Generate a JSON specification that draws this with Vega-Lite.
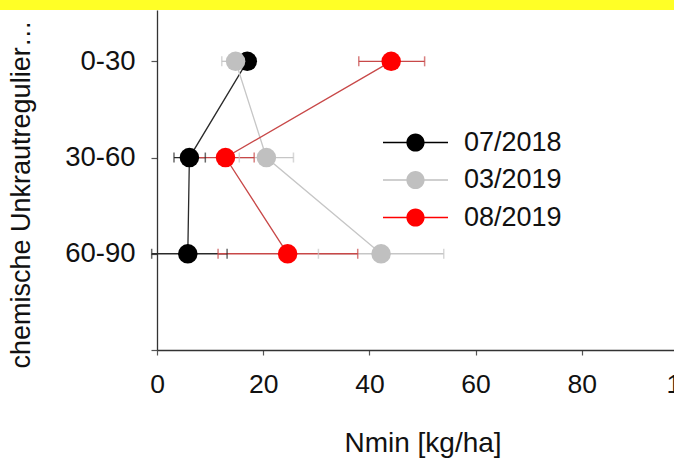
{
  "$schema": "https://vega.github.io/schema/vega-lite/v6.json",
  "padding": 0,
  "spacing": 0,
  "bounds": "flush",
  "center": true,
  "config": {
    "view": {"stroke": null},
    "font": "Liberation Sans",
    "axis": {"grid": false, "labelColor": "#111", "titleColor": "#111", "titleFontWeight": "normal", "domainColor": "#333", "domainWidth": 1.3, "tickColor": "#555", "tickWidth": 1.2}
  },
  "vconcat": [
    {
      "width": 845,
      "height": 10,
      "data": {"values": [{"band": "top"}]},
      "mark": {"type": "rect", "color": "#ffff26"}
    },
    {
      "width": 531,
      "height": 340,
      "data": {
        "values": [
          {"date": "07/2018", "depth": 15, "nmin": 17.0, "lo": 16.4, "hi": 17.6},
          {"date": "07/2018", "depth": 45, "nmin": 6.1, "lo": 3.2, "hi": 9.1},
          {"date": "07/2018", "depth": 75, "nmin": 5.8, "lo": -1.0, "hi": 13.2},
          {"date": "03/2019", "depth": 15, "nmin": 14.8, "lo": 12.2, "hi": 17.4},
          {"date": "03/2019", "depth": 45, "nmin": 20.6, "lo": 15.5, "hi": 25.7},
          {"date": "03/2019", "depth": 75, "nmin": 42.2, "lo": 30.4, "hi": 54.0},
          {"date": "08/2019", "depth": 15, "nmin": 44.1, "lo": 38.0, "hi": 50.4},
          {"date": "08/2019", "depth": 45, "nmin": 12.9, "lo": 7.5, "hi": 18.3},
          {"date": "08/2019", "depth": 75, "nmin": 24.6, "lo": 11.5, "hi": 37.8}
        ]
      },
      "encoding": {
        "y": {
          "field": "depth",
          "type": "quantitative",
          "scale": {"domain": [-1, 105], "reverse": true, "nice": false, "zero": false},
          "axis": {
            "title": "chemische Unkrautregulierung",
            "titleFontSize": 27,
            "titlePadding": 29,
            "titleAlign": "left",
            "titleY": 358,
            "titleLimit": 356,
            "values": [15, 45, 75, 105],
            "labelExpr": "datum.value == 15 ? '0-30' : datum.value == 45 ? '30-60' : datum.value == 75 ? '60-90' : ''",
            "labelFontSize": 27.5,
            "labelPadding": 16,
            "tickSize": 6
          }
        }
      },
      "layer": [
        {
          "mark": {"type": "line", "strokeWidth": 1.3},
          "encoding": {
            "x": {"field": "nmin", "type": "quantitative", "scale": {"domain": [0, 100], "nice": false},
              "axis": {"title": "Nmin [kg/ha]", "titleFontSize": 28, "titlePadding": 32, "values": [0, 20, 40, 60, 80, 100], "labelFontSize": 26.5, "labelPadding": 16, "labelFlush": false, "tickSize": 5}},
            "order": {"field": "depth", "type": "quantitative"},
            "stroke": {
              "field": "date", "type": "nominal",
              "scale": {"domain": ["08/2019", "03/2019", "07/2018"], "range": ["#c84848", "#c6c6c6", "#2a2a2a"]},
              "legend": null
            }
          }
        },
        {
          "mark": {"type": "rule", "strokeWidth": 1.3},
          "encoding": {
            "x": {"field": "lo", "type": "quantitative"},
            "x2": {"field": "hi"},
            "stroke": {"field": "date", "type": "nominal", "legend": null}
          }
        },
        {
          "mark": {"type": "tick", "orient": "vertical", "size": 10, "thickness": 1.5},
          "encoding": {
            "x": {"field": "lo", "type": "quantitative"},
            "fill": {"field": "date", "type": "nominal", "scale": {"domain": ["03/2019", "08/2019", "07/2018"], "range": ["#c6c6c6", "#c84848", "#2a2a2a"]}, "legend": null}
          }
        },
        {
          "mark": {"type": "tick", "orient": "vertical", "size": 10, "thickness": 1.5},
          "encoding": {
            "x": {"field": "hi", "type": "quantitative"},
            "fill": {"field": "date", "type": "nominal", "legend": null}
          }
        },
        {
          "mark": {"type": "point", "filled": true, "size": 380, "opacity": 1},
          "encoding": {
            "x": {"field": "nmin", "type": "quantitative"},
            "color": {
              "field": "date", "type": "nominal",
              "scale": {"domain": ["07/2018", "03/2019", "08/2019"], "range": ["#000000", "#c0c0c0", "#ff0000"]},
              "legend": {
                "title": null, "orient": "none", "legendX": 383, "legendY": 129,
                "symbolType": "M-1,-0.023L-0.27,-0.023L-0.27,0.023L-1,0.023Z M0.27,-0.023L1,-0.023L1,0.023L0.27,0.023Z M-0.28,0A0.28,0.28,0,1,1,0.28,0A0.28,0.28,0,1,1,-0.28,0Z",
                "symbolSize": 4225, "symbolStrokeWidth": 0, "symbolOpacity": 1,
                "labelFontSize": 27, "labelColor": "#111", "labelOffset": 16, "rowPadding": 9.5, "clipHeight": 27, "padding": 0
              }
            }
          }
        }
      ]
    }
  ]
}
